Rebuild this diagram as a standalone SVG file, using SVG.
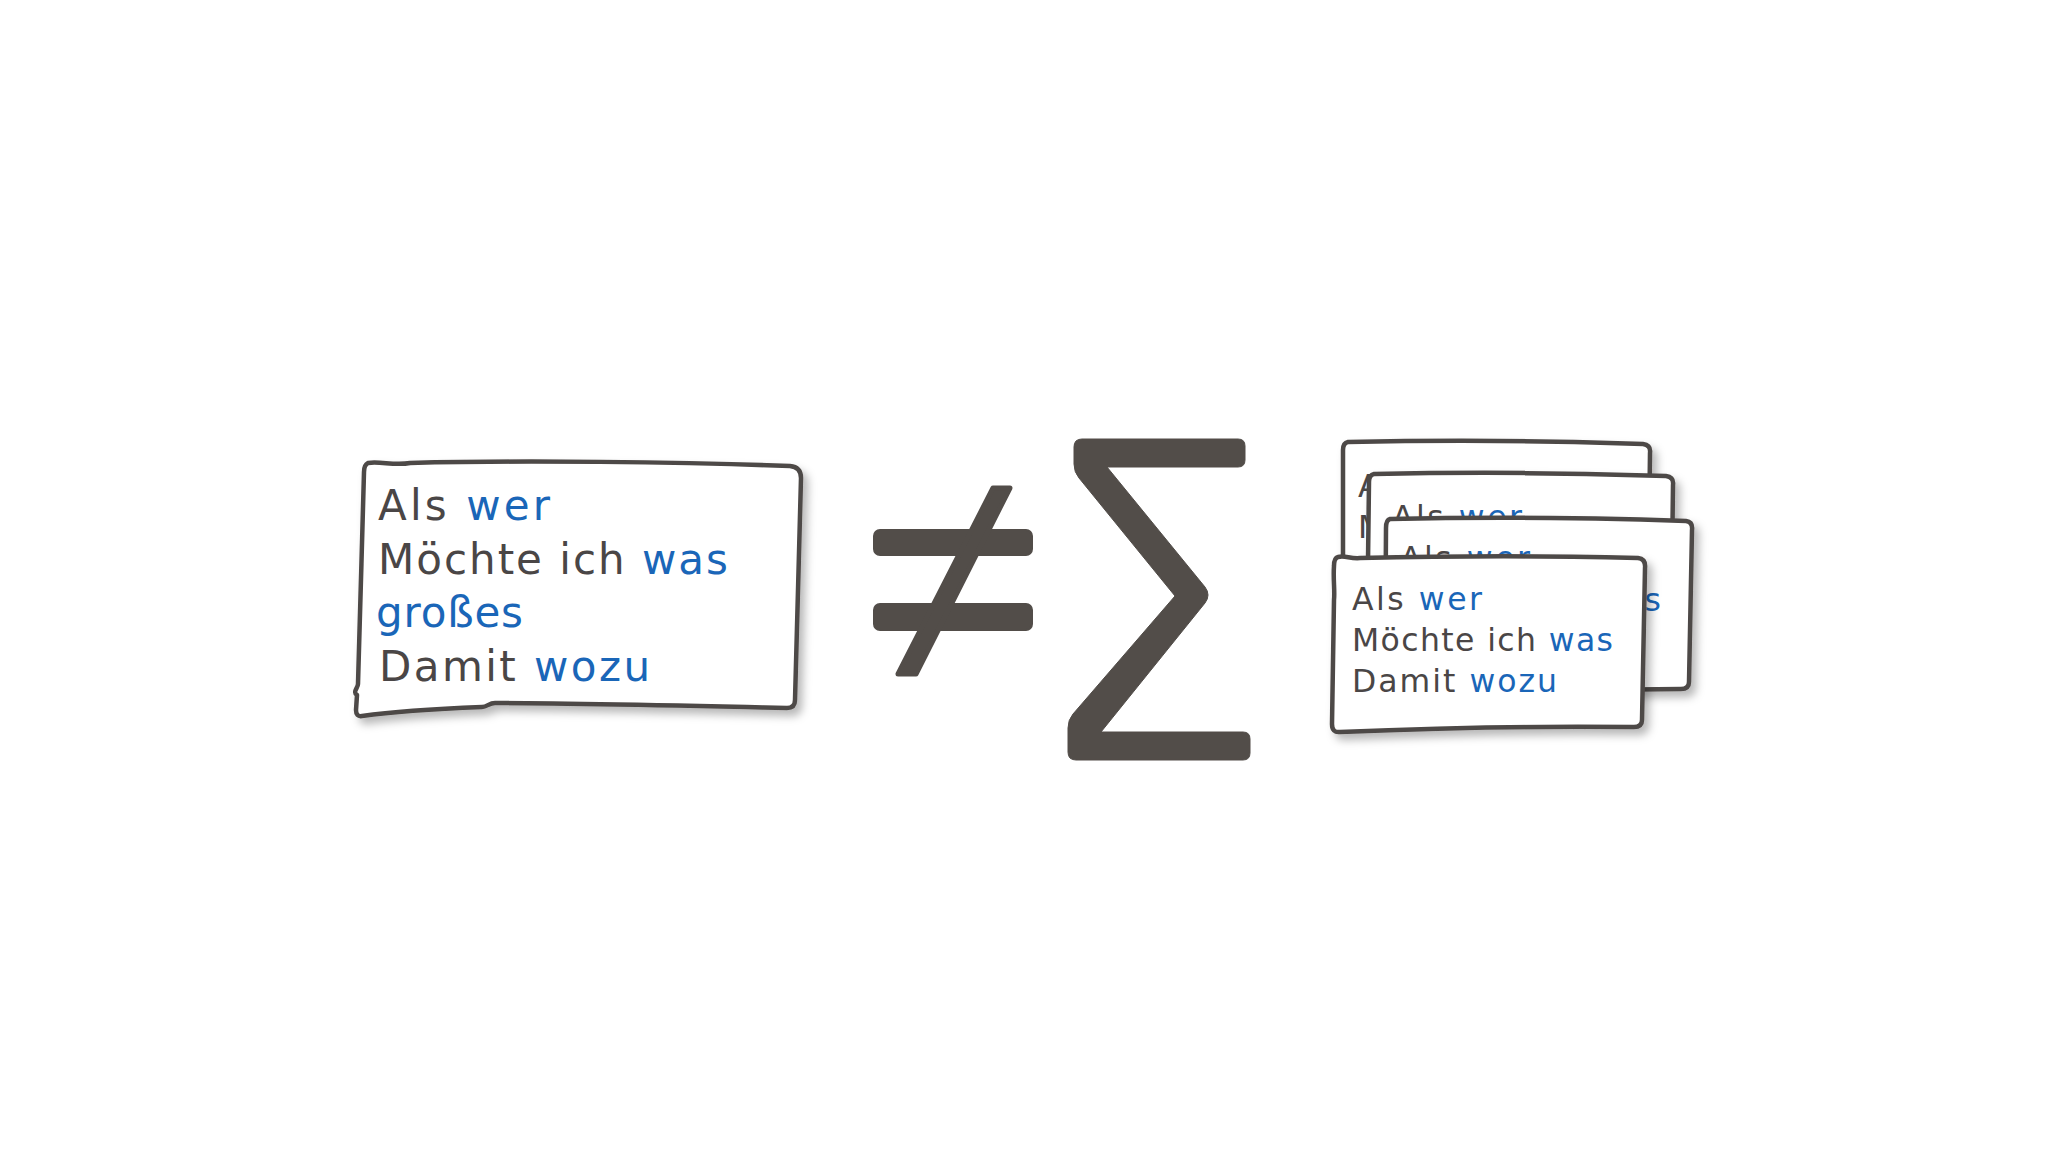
<svg xmlns="http://www.w3.org/2000/svg" width="2048" height="1152" viewBox="0 0 2048 1152">
<defs>
<filter id="sh" x="-10%" y="-10%" width="125%" height="130%">
<feDropShadow dx="5" dy="6" stdDeviation="4" flood-color="#000" flood-opacity="0.28"/>
</filter>
<style>
.card{fill:#fff;stroke:#4d4846;stroke-width:4.5;stroke-linejoin:round;filter:url(#sh)}
.t{font-family:"DejaVu Sans","Noto Sans",sans-serif;fill:#4a4646}
.b{fill:#1a66b8}
.big{font-size:42px}
.sm{font-size:31.5px}
.sym{fill:#524d49;stroke:#524d49;stroke-linejoin:round}
</style>
</defs>
<rect width="2048" height="1152" fill="#fff"/>

<g id="card-left">
<path class="card" d="M368,463 C380,461 395,466 410,463 C520,460 680,462 790,466 Q801,467 801,478 C800,540 796,640 795,700 Q795,708 787,708 C700,706 560,703 495,703 C489,703 487,707 482,707 C430,709 390,712 362,716 Q356,717 356,710 L357,695 C352,692 358,688 358,684 C360,620 362,540 364,472 Q364,465 368,463 Z"/>
<text class="t big" x="378" y="520" textLength="172" lengthAdjust="spacing">Als <tspan class="b">wer</tspan></text>
<text class="t big" x="378" y="574" textLength="350" lengthAdjust="spacing">Möchte ich <tspan class="b">was</tspan></text>
<text class="t big b" x="376" y="627" textLength="147" lengthAdjust="spacing">großes</text>
<text class="t big" x="379" y="681" textLength="271" lengthAdjust="spacing">Damit <tspan class="b">wozu</tspan></text>
</g>

<g id="not-equal">
<rect class="sym" x="874" y="530" width="158" height="25" rx="6" stroke-width="2"/>
<rect class="sym" x="874" y="604" width="158" height="26" rx="6" stroke-width="2"/>
<polygon class="sym" stroke-width="5" points="993,488 1010,488 916,674 898,674"/>
</g>

<g id="sigma">
<path class="sym" stroke-width="1" d="M1082,439 L1238,439 Q1245,439 1245,446 L1245,460 Q1245,467 1238,467 L1107,467 L1205,587 Q1211,595 1205,603 L1101,732 L1243,732 Q1250,732 1250,739 L1250,753 Q1250,760 1243,760 L1076,760 Q1068,760 1068,752 L1068,728 Q1068,720 1073,714 L1175,596 L1079,478 Q1074,472 1074,464 L1074,447 Q1074,439 1082,439 Z"/>
</g>

<g id="card-stack">
<g id="card-a">
<path class="card" d="M1348,442 C1440,440 1560,441 1643,444 Q1651,445 1650,453 L1648,612 Q1648,620 1640,620 L1350,620 Q1343,620 1343,612 L1343,450 Q1343,443 1348,442 Z"/>
<text class="t sm" x="1358" y="497" textLength="130" lengthAdjust="spacing">Als <tspan class="b">wer</tspan></text>
<text class="t sm" x="1358" y="538" textLength="261" lengthAdjust="spacing">Möchte ich <tspan class="b">was</tspan></text>
<text class="t sm" x="1358" y="580" textLength="205" lengthAdjust="spacing">Damit <tspan class="b">wozu</tspan></text>
</g>
<g id="card-b">
<path class="card" d="M1374,474 C1470,472 1580,473 1666,476 Q1674,477 1673,485 L1671,640 Q1671,648 1663,648 L1375,650 Q1367,650 1367,642 L1369,482 Q1369,475 1374,474 Z"/>
<text class="t sm" x="1392" y="528" textLength="130" lengthAdjust="spacing">Als <tspan class="b">wer</tspan></text>
<text class="t sm" x="1392" y="569" textLength="261" lengthAdjust="spacing">Möchte ich <tspan class="b">was</tspan></text>
<text class="t sm" x="1392" y="611" textLength="205" lengthAdjust="spacing">Damit <tspan class="b">wozu</tspan></text>
</g>
<g id="card-c">
<path class="card" d="M1390,519 C1480,517 1600,518 1686,521 Q1693,522 1692,530 L1689,682 Q1689,689 1681,689 C1600,690 1470,691 1392,692 Q1385,692 1385,685 L1386,528 Q1386,520 1390,519 Z"/>
<text class="t sm" x="1400" y="569" textLength="130" lengthAdjust="spacing">Als <tspan class="b">wer</tspan></text>
<text class="t sm" x="1400" y="611" textLength="261" lengthAdjust="spacing">Möchte ich <tspan class="b">was</tspan></text>
<text class="t sm" x="1400" y="653" textLength="205" lengthAdjust="spacing">Damit <tspan class="b">wozu</tspan></text>
</g>
<g id="card-front">
<path class="card" d="M1338,557 C1345,555 1350,559 1360,558 C1450,556 1560,556 1638,558 Q1646,559 1645,568 L1642,720 Q1642,727 1634,727 C1540,726 1430,728 1340,732 Q1332,733 1332,724 L1334,600 C1335,590 1333,580 1334,566 Q1334,558 1338,557 Z"/>
<text class="t sm" x="1352" y="610" textLength="130" lengthAdjust="spacing">Als <tspan class="b">wer</tspan></text>
<text class="t sm" x="1352" y="651" textLength="261" lengthAdjust="spacing">Möchte ich <tspan class="b">was</tspan></text>
<text class="t sm" x="1352" y="692" textLength="205" lengthAdjust="spacing">Damit <tspan class="b">wozu</tspan></text>
</g>
</g>
</svg>
